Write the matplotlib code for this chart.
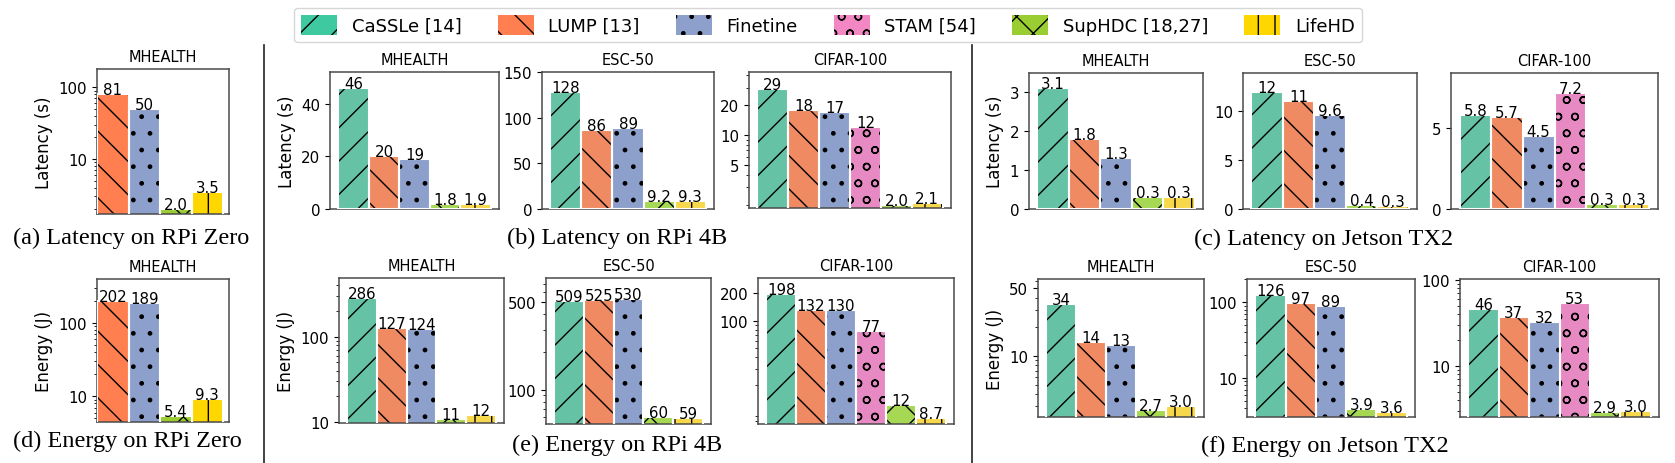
import numpy as np
import matplotlib
matplotlib.use('Agg')
import matplotlib.pyplot as plt
from matplotlib.patches import Patch
from matplotlib.lines import Line2D
from matplotlib.ticker import FixedLocator, NullFormatter, LogLocator, FuncFormatter, NullLocator

nan = np.nan

# ---------------- data ----------------
methods = ['CaSSLe [14]', 'LUMP [13]', 'Finetine', 'STAM [54]', 'SupHDC [18,27]', 'LifeHD']

lat_rpizero_mhealth = [nan, 81, 50, nan, 2.0, 3.5]
lat_rpi4b_mhealth = [46, 20, 19, nan, 1.8, 1.9]
lat_rpi4b_esc50 = [128, 86, 89, nan, 9.2, 9.3]
lat_rpi4b_cifar100 = [29, 18, 17, 12, 2.0, 2.1]
lat_tx2_mhealth = [3.1, 1.8, 1.3, nan, 0.3, 0.3]
lat_tx2_esc50 = [12, 11, 9.6, nan, 0.4, 0.3]
lat_tx2_cifar100 = [5.8, 5.7, 4.5, 7.2, 0.3, 0.3]

eng_rpizero_mhealth = [nan, 202, 189, nan, 5.4, 9.3]
eng_rpi4b_mhealth = [286, 127, 124, nan, 11, 12]
eng_rpi4b_esc50 = [509, 525, 530, nan, 60, 59]
eng_rpi4b_cifar100 = [198, 132, 130, 77, 12, 8.7]
eng_tx2_mhealth = [34, 14, 13, nan, 2.7, 3.0]
eng_tx2_esc50 = [126, 97, 89, nan, 3.9, 3.6]
eng_tx2_cifar100 = [46, 37, 32, 53, 2.9, 3.0]

captions = ['(a) Latency on RPi Zero', '(b) Latency on RPi 4B', '(c) Latency on Jetson TX2',
            '(d) Energy on RPi Zero', '(e) Energy on RPi 4B', '(f) Energy on Jetson TX2']

# ---------------- style ----------------
hatches = ['/', '\\', '.', 'o', 'x', '|']
colors_main = ['#66c2a5', '#ef8a62', '#8da0cb', '#e78ac3', '#a6d854', '#f7d84a']
colors_bright = ['#3ec9a0', '#ff7f50', '#8da0cb', '#f287c4', '#9acd32', '#ffd700']

plt.rcParams['font.family'] = 'DejaVu Sans'
plt.rcParams['hatch.linewidth'] = 1.0

W, H = 1675, 464
fig = plt.figure(figsize=(W / 100, H / 100), dpi=100)


def px_axes(l, r, t, b):
    return fig.add_axes([l / W, 1 - b / H, (r - l) / W, (b - t) / H])


def fmt(v):
    return '%d' % round(v) if v >= 10 else '%.1f' % v


def draw(box, vals, title, ylabel, scale, ylim, yticks, palette, lm, rm):
    ax = px_axes(*box)
    idx = [i for i, v in enumerate(vals) if not np.isnan(v)]
    if scale == 'log':
        ax.set_yscale('log')
    for k, i in enumerate(idx):
        ax.bar(k, vals[i], width=1.0, color=palette[i], hatch=hatches[i],
               edgecolor='black', linewidth=0, zorder=2)
        ax.bar(k, vals[i], width=1.0, fill=False, edgecolor='white',
               linewidth=1.5, zorder=3)
        ax.text(k, vals[i], fmt(vals[i]), ha='center', va='baseline',
                fontsize=10.8, zorder=4)
    ax.set_xlim(-0.5 - lm, len(idx) - 0.5 + rm)
    ax.set_ylim(*ylim)
    ax.set_xticks([])
    ax.yaxis.set_major_locator(FixedLocator(yticks))
    ax.yaxis.set_major_formatter(FuncFormatter(lambda v, p: '%g' % v))
    if scale == 'log':
        ax.yaxis.set_minor_locator(LogLocator(base=10, subs=np.arange(2, 10)))
        ax.yaxis.set_minor_formatter(NullFormatter())
    else:
        ax.yaxis.set_minor_locator(NullLocator())
    ax.tick_params(axis='y', labelsize=10.8)
    ax.set_title(title, fontsize=10.5)
    if ylabel:
        ax.set_ylabel(ylabel, fontsize=12)
    for s in ax.spines.values():
        s.set_edgecolor('#4a4a4a')
        s.set_linewidth(1.1)
    return ax


m = 0.27
# latency row
draw((97, 229, 70, 215), lat_rpizero_mhealth, 'MHEALTH', 'Latency (s)', 'log', (1.71, 180), [10, 100], colors_bright, 0, 0.19)
draw((330, 499, 73, 210), lat_rpi4b_mhealth, 'MHEALTH', 'Latency (s)', 'lin', (0, 52), [0, 20, 40], colors_main, m, m)
draw((542, 714, 73, 210), lat_rpi4b_esc50, 'ESC-50', None, 'lin', (0, 150), [0, 50, 100, 150], colors_main, m, m)
draw((749, 951, 73, 209), lat_rpi4b_cifar100, 'CIFAR-100', None, 'log', (1.85, 43), [5, 10, 20], colors_main, m, m)
draw((1029, 1203, 74, 210), lat_tx2_mhealth, 'MHEALTH', 'Latency (s)', 'lin', (0, 3.48), [0, 1, 2, 3], colors_main, m, m)
draw((1243, 1417, 74, 210), lat_tx2_esc50, 'ESC-50', None, 'lin', (0, 13.9), [0, 5, 10], colors_main, m, m)
draw((1451, 1658, 74, 210), lat_tx2_cifar100, 'CIFAR-100', None, 'lin', (0, 8.43), [0, 5], colors_main, m, m)
# energy row
draw((97, 229, 280, 423), eng_rpizero_mhealth, 'MHEALTH', 'Energy (J)', 'log', (4.47, 398), [10, 100], colors_bright, 0, 0.19)
draw((339, 504, 279, 424), eng_rpi4b_mhealth, 'MHEALTH', 'Energy (J)', 'log', (9.8, 484), [10, 100], colors_main, m, m)
draw((546, 711, 279, 425), eng_rpi4b_esc50, 'ESC-50', None, 'log', (53, 783), [100, 500], colors_main, m, m)
draw((758, 954, 279, 425), eng_rpi4b_cifar100, 'CIFAR-100', None, 'log', (7.43, 294), [100, 200], colors_main, m, m)
draw((1038, 1204, 280, 418), eng_tx2_mhealth, 'MHEALTH', 'Energy (J)', 'log', (2.31, 62.4), [10, 50], colors_main, m, m)
draw((1247, 1415, 280, 418), eng_tx2_esc50, 'ESC-50', None, 'log', (3.05, 203), [10, 100], colors_main, m, m)
draw((1460, 1659, 280, 418), eng_tx2_cifar100, 'CIFAR-100', None, 'log', (2.53, 102), [10, 100], colors_main, m, m)

# captions
cap_pos = [(131, 238), (617, 238), (1324, 239), (127, 441), (617, 445), (1325, 446)]
for txt, (cx, cy) in zip(captions, cap_pos):
    fig.text(cx / W, 1 - cy / H, txt, ha='center', va='center',
             family='Liberation Serif', fontsize=17.5)

# separators
for x in (264, 972):
    fig.add_artist(Line2D([x / W, x / W], [0, 1 - 46 / H], transform=fig.transFigure,
                          color='#222222', linewidth=1.2))

# legend
handles = [Patch(facecolor=c, hatch=h, edgecolor='black', linewidth=0, label=lab)
           for c, h, lab in zip(colors_bright, hatches, methods)]
leg = fig.legend(handles=handles, loc='center', bbox_to_anchor=(828 / W, 1 - 26 / H),
                 ncol=6, fontsize=13, frameon=True, fancybox=True,
                 handlelength=2.0, handleheight=1.3, handletextpad=0.8,
                 columnspacing=2.0, borderpad=0.4)
leg.get_frame().set_edgecolor('#cccccc')

fig.savefig('out.png', dpi=100)
